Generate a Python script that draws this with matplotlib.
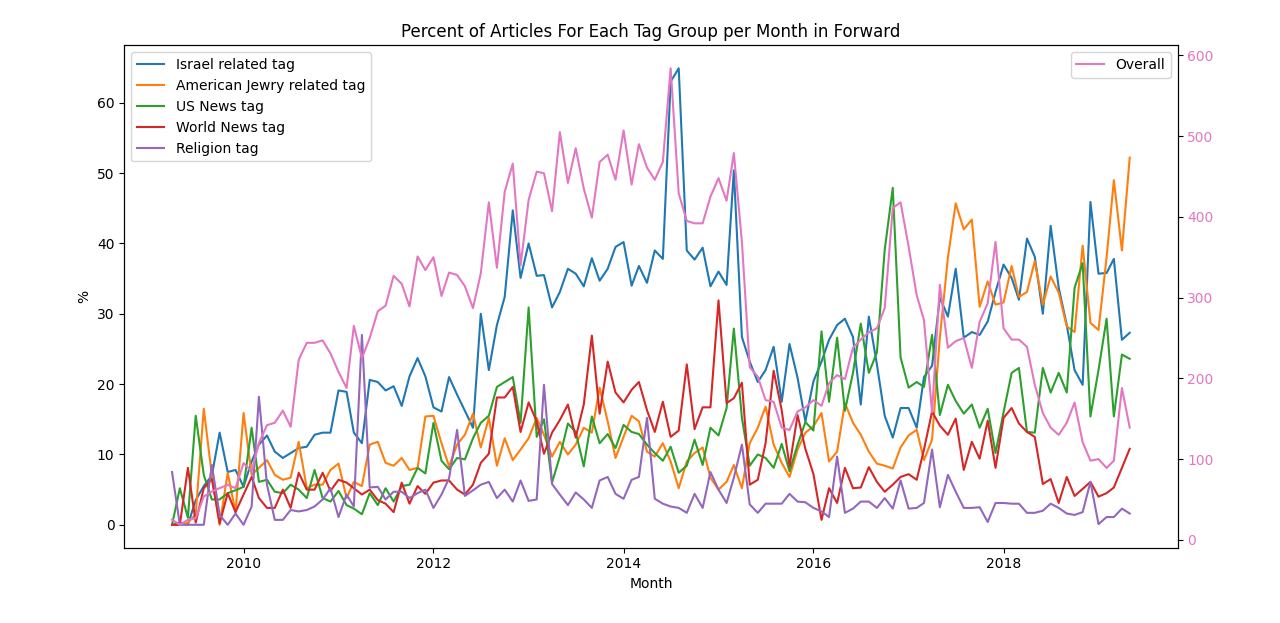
import pandas as pd
import matplotlib
matplotlib.use('Agg')
import matplotlib.pyplot as plt
import matplotlib.dates as mdates

months = pd.date_range('2009-04-01', periods=122, freq='MS')

israel = [0, 0.3, 0, 3.5, 5.5, 7, 13.1, 7.5, 7.8, 5.4,
          9.0, 11.4, 12.7, 10.4, 9.5, 10.2, 10.9, 11.1, 12.8, 13.1,
          13.1, 19.1, 18.9, 13.1, 11.6, 20.6, 20.3, 19.1, 19.7, 16.9,
          21.1, 23.7, 21.1, 16.7, 16.1, 21.0, 18.5, 16.2, 13.8, 30.0,
          22.0, 28.4, 32.4, 44.7, 35.1, 40.0, 35.4, 35.5, 30.9, 33.1,
          36.4, 35.7, 33.9, 37.9, 34.7, 36.4, 39.5, 40.2, 34.0, 36.8,
          34.4, 39.0, 37.8, 63.0, 64.9, 39.0, 37.7, 39.4, 33.9, 36.0,
          34.1, 50.4, 26.7, 23.2, 20.3, 22.0, 25.3, 17.5, 25.7, 20.9,
          14.7, 20.4, 23.2, 26.3, 28.4, 29.3, 26.7, 17.1, 29.6, 22.8,
          15.5, 12.4, 16.6, 16.6, 13.8, 21.0, 22.6, 32.3, 29.6, 36.4,
          26.6, 27.4, 27.0, 28.9, 33.1, 37.0, 35.1, 32.0, 40.7, 38.1,
          30.0, 42.5, 33.7, 28.4, 22.0, 19.9, 45.9, 35.7, 35.8, 37.8,
          26.3, 27.3]

am_jewry = [0, 0, 0.3, 1.5, 16.5, 7.0, 0, 7.4, 1.8, 15.9,
            7.1, 8.1, 9.2, 7.1, 6.4, 6.7, 11.8, 5.2, 5.7, 5.7,
            7.8, 8.7, 3.8, 6.1, 5.5, 11.4, 11.8, 8.8, 8.4, 9.5,
            7.8, 8.1, 15.4, 15.5, 11.6, 8.3, 11.4, 12.8, 15.8, 11.0,
            15.2, 8.4, 12.3, 9.2, 10.7, 12.3, 15.2, 12.8, 9.7, 11.8,
            10.0, 11.4, 13.8, 13.1, 19.5, 14.7, 9.5, 12.5, 15.5, 14.7,
            10.4, 9.7, 11.6, 9.0, 5.2, 9.0, 10.2, 11.0, 6.7, 5.0,
            6.1, 8.5, 5.2, 11.6, 13.8, 16.8, 11.4, 8.8, 6.8, 10.7,
            13.1, 14.0, 15.9, 9.0, 10.4, 17.3, 14.5, 12.8, 10.4, 8.7,
            8.4, 8.0, 11.0, 12.7, 13.5, 9.2, 12.1, 26.6, 38.0, 45.7,
            42.0, 43.4, 31.0, 34.6, 31.3, 31.6, 36.8, 32.4, 33.1, 37.5,
            31.3, 35.3, 33.0, 28.2, 27.4, 39.7, 28.7, 27.7, 38.0, 49.0,
            39.0, 52.2]

us_news = [0, 5.2, 1.0, 15.5, 7.1, 3.6, 3.6, 4.5, 4.9, 5.4,
           13.8, 6.1, 6.4, 4.7, 4.5, 5.7, 5.0, 3.8, 7.8, 3.8,
           3.3, 4.8, 2.8, 2.3, 1.5, 4.5, 2.8, 5.2, 3.3, 5.5,
           5.7, 8.1, 7.3, 14.5, 9.1, 7.9, 9.5, 9.3, 12.3, 14.5,
           15.5, 19.6, 20.3, 21.0, 14.5, 30.9, 12.5, 15.0, 6.0, 9.7,
           14.4, 13.2, 8.3, 15.4, 11.6, 12.9, 10.9, 14.2, 13.2, 12.9,
           11.4, 10.2, 9.1, 11.1, 7.4, 8.4, 12.1, 8.5, 13.8, 12.7,
           16.6, 27.9, 15.2, 8.4, 10.0, 9.5, 8.1, 11.5, 7.6, 11.4,
           14.6, 13.4, 27.5, 17.5, 26.6, 16.2, 21.6, 28.6, 21.6, 24.5,
           39.1, 47.9, 23.8, 19.5, 20.3, 19.6, 27.0, 15.6, 19.9, 17.6,
           15.8, 17.1, 13.8, 16.5, 10.2, 16.0, 21.6, 22.3, 13.2, 13.1,
           22.3, 18.8, 21.6, 18.8, 33.7, 37.2, 15.4, 22.0, 29.3, 15.4,
           24.2, 23.6]

world_news = [0, 0, 8.1, 0.3, 5.2, 6.5, 0.2, 4.5, 1.8, 4.3,
              6.8, 3.8, 2.4, 2.4, 5.0, 2.4, 7.4, 5.0, 5.0, 7.4,
              4.8, 6.4, 6.0, 5.2, 4.3, 5.0, 3.5, 3.0, 1.8, 6.0,
              3.0, 5.5, 4.4, 6.0, 6.3, 6.3, 5.0, 4.3, 5.7, 8.8,
              10.1, 18.1, 18.1, 19.6, 13.2, 17.4, 14.7, 10.1, 13.1, 14.9,
              17.1, 12.4, 17.1, 26.9, 15.8, 23.2, 18.8, 17.4, 19.2, 20.3,
              16.3, 13.2, 17.5, 12.5, 13.4, 22.8, 13.6, 16.7, 16.7, 31.9,
              17.3, 18.0, 20.2, 5.7, 6.4, 11.6, 21.9, 16.3, 8.3, 15.6,
              10.8, 7.2, 0.7, 5.2, 3.1, 8.1, 5.2, 5.3, 8.2, 6.1,
              4.7, 5.7, 6.8, 7.2, 6.4, 10.7, 16.1, 14.1, 12.8, 15.1,
              7.8, 11.8, 9.4, 14.8, 8.1, 15.2, 16.6, 14.4, 13.2, 12.5,
              5.8, 6.5, 3.1, 6.8, 4.1, 5.1, 6.1, 4.0, 4.5, 5.3,
              8.1, 10.8]

religion = [7.5, 0, 0, 0, 0, 8.5, 1.4, 0, 1.6, 0,
            2.6, 18.2, 5.7, 0.7, 0.7, 2.1, 1.9, 2.1, 2.6, 3.6,
            5.2, 1.1, 4.3, 2.6, 27.0, 5.3, 5.4, 3.6, 4.7, 4.7,
            3.8, 4.5, 5.0, 2.4, 4.3, 6.6, 13.5, 4.1, 4.9, 5.7,
            6.1, 3.8, 5.0, 3.3, 6.3, 3.4, 3.6, 19.9, 5.8, 4.3,
            2.8, 4.6, 3.6, 2.4, 6.3, 6.8, 4.4, 3.7, 6.4, 6.8,
            15.2, 3.7, 3.0, 2.6, 2.4, 1.7, 4.4, 2.4, 7.5, 5.0,
            3.1, 6.7, 11.4, 2.9, 1.7, 3.0, 3.0, 3.0, 4.4, 3.3,
            3.2, 2.4, 1.9, 1.1, 9.7, 1.7, 2.3, 3.3, 3.3, 2.4,
            3.8, 2.3, 6.3, 2.3, 2.4, 3.1, 10.7, 2.5, 7.1, 4.7,
            2.4, 2.4, 2.5, 0.4, 3.1, 3.1, 3.0, 3.0, 1.7, 1.7,
            2.0, 3.0, 2.4, 1.6, 1.4, 1.8, 6.1, 0.1, 1.1, 1.1,
            2.3, 1.6]

overall = [25, 18.6, 24.8, 26.8, 53.6, 59.8, 64, 68, 64, 95,
           84.6, 120, 142, 145, 160, 140, 223, 244, 244, 247,
           231, 208, 188, 265, 225, 250, 283, 290, 327, 317,
           289, 351, 334, 350, 302, 331, 328, 314, 287, 330,
           418, 337, 431, 466, 340, 421, 456, 454, 407, 505,
           442, 485, 435, 399, 468, 477, 446, 507, 440, 490,
           461, 446, 468, 584, 429, 395, 392, 392, 425, 448,
           420, 479, 369, 214, 202, 173, 171, 139, 136, 159,
           164, 173, 166, 194, 204, 199, 238, 248, 257, 262,
           287, 411, 418, 363, 303, 272, 158, 316, 238, 246,
           250, 213, 270, 293, 369, 262, 248, 248, 239, 192,
           157, 139, 130, 145, 170, 121, 98, 100, 89, 98,
           188, 139]

fig, ax = plt.subplots(figsize=(12.8, 6.23), dpi=100)
fig.subplots_adjust(left=0.097, right=0.920, bottom=0.121, top=0.927)

ax.plot(months, israel, color='tab:blue', label='Israel related tag')
ax.plot(months, am_jewry, color='tab:orange', label='American Jewry related tag')
ax.plot(months, us_news, color='tab:green', label='US News tag')
ax.plot(months, world_news, color='tab:red', label='World News tag')
ax.plot(months, religion, color='tab:purple', label='Religion tag')
ax.set_xlabel('Month')
ax.set_ylabel('%')
ax.set_title('Percent of Articles For Each Tag Group per Month in Forward')
ax.legend(loc='upper left')

ax2 = ax.twinx()
ax2.plot(months, overall, color='tab:pink', label='Overall')
ax2.tick_params(axis='y', labelcolor='tab:pink')
ax2.legend(loc='upper right')

ax.xaxis.set_major_locator(mdates.YearLocator(2))
ax.xaxis.set_major_formatter(mdates.DateFormatter('%Y'))

plt.savefig('out.png')
